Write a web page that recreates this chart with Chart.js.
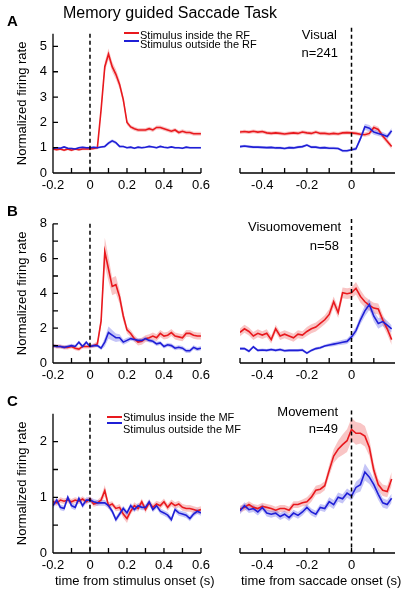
<!DOCTYPE html>
<html>
<head>
<meta charset="utf-8">
<script src="https://cdn.jsdelivr.net/npm/chart.js@4.4.0/dist/chart.umd.min.js"></script>
<style>
body { margin: 0; background: #fff; font-family: Arial, "Liberation Sans", sans-serif; }
#fig { position: relative; width: 408px; height: 599px; overflow: hidden; }
canvas { position: absolute; }
.t { position: absolute; white-space: nowrap; color: #000; line-height: 1; }
.r { text-align: right; }
.ln { position: absolute; height: 2px; width: 15px; }
</style>
</head>
<body>
<div id="fig">
  <canvas id="cAL" width="215" height="175" style="left:0;top:20px"></canvas>
  <canvas id="cAR" width="178" height="175" style="left:230px;top:20px"></canvas>
  <canvas id="cBL" width="215" height="175" style="left:0;top:210px"></canvas>
  <canvas id="cBR" width="178" height="175" style="left:230px;top:210px"></canvas>
  <canvas id="cCL" width="215" height="175" style="left:0;top:400px"></canvas>
  <canvas id="cCR" width="178" height="175" style="left:230px;top:400px"></canvas>

  <div class="t" style="left:63px;top:5px;font-size:16px">Memory guided Saccade Task</div>
  <div class="t" style="left:7px;top:13px;font-size:15px;font-weight:bold">A</div>
  <div class="t" style="left:7px;top:203px;font-size:15px;font-weight:bold">B</div>
  <div class="t" style="left:7px;top:393px;font-size:15px;font-weight:bold">C</div>

  <div class="ln" style="left:124px;top:32px;background:#e8191e"></div>
  <div class="t" style="left:140px;top:30px;font-size:11px">Stimulus inside the RF</div>
  <div class="ln" style="left:124px;top:40px;background:#1f1fd6"></div>
  <div class="t" style="left:140px;top:39px;font-size:11px">Stimulus outside the RF</div>

  <div class="ln" style="left:107px;top:416px;background:#e8191e"></div>
  <div class="t" style="left:123px;top:412px;font-size:11px">Stimulus inside the MF</div>
  <div class="ln" style="left:107px;top:422px;background:#1f1fd6"></div>
  <div class="t" style="left:123px;top:424px;font-size:11px">Stimulus outside the MF</div>

  <div class="t r" style="right:71px;top:28px;font-size:13px">Visual</div>
  <div class="t r" style="right:70px;top:46px;font-size:13px">n=241</div>
  <div class="t r" style="right:67px;top:220px;font-size:13px">Visuomovement</div>
  <div class="t r" style="right:69px;top:239px;font-size:13px">n=58</div>
  <div class="t r" style="right:70px;top:405px;font-size:13px">Movement</div>
  <div class="t r" style="right:70px;top:422px;font-size:13px">n=49</div>

  <div class="t" style="left:55px;top:574px;font-size:13px">time from stimulus onset (s)</div>
  <div class="t" style="left:241px;top:574px;font-size:13px">time from saccade onset (s)</div>
</div>
<script>
// time bins (s)
const timesL = [-0.2,-0.18,-0.16,-0.14,-0.12,-0.1,-0.08,-0.06,-0.04,-0.02,0,0.02,0.04,0.06,0.08,0.1,0.12,0.14,0.16,0.18,0.2,
                0.22,0.24,0.26,0.28,0.3,0.32,0.34,0.36,0.38,0.4,0.42,0.44,0.46,0.48,0.5,0.52,0.54,0.56,0.58,0.6];
const timesR = [-0.5,-0.48,-0.46,-0.44,-0.42,-0.4,-0.38,-0.36,-0.34,-0.32,-0.3,-0.28,-0.26,-0.24,-0.22,-0.2,-0.18,-0.16,
                -0.14,-0.12,-0.1,-0.08,-0.06,-0.04,-0.02,0,0.02,0.04,0.06,0.08,0.1,0.12,0.14,0.16,0.18];

// tick positions and labelled ticks
const xTicksL = [-0.2,-0.1,0,0.1,0.2,0.3,0.4,0.5,0.6];
const xLabelsL = [-0.2,0,0.2,0.4,0.6];
const xTicksR = [-0.5,-0.4,-0.3,-0.2,-0.1,0,0.1];
const xLabelsR = [-0.4,-0.2,0];
const yTicksA = [0,1,2,3,4,5];
const yLabelsA = [0,1,2,3,4,5];
const yTicksB = [0,1,2,3,4,5,6,7,8];
const yLabelsB = [0,2,4,6,8];
const yTicksC = [0,0.5,1,1.5,2];
const yLabelsC = [0,1,2];

// A - Visual
const aRedL  = [0.95,0.92,0.95,0.9,0.95,0.9,0.95,0.92,0.95,0.95,0.95,0.97,1.0,2.5,4.2,4.7,4.2,3.9,3.5,2.9,2.0,
                1.82,1.75,1.7,1.7,1.7,1.75,1.7,1.8,1.8,1.75,1.7,1.65,1.7,1.6,1.65,1.6,1.6,1.55,1.55,1.55];
const aRedLsem = [0.05,0.05,0.05,0.05,0.05,0.05,0.05,0.05,0.05,0.05,0.05,0.05,0.06,0.15,0.2,0.22,0.2,0.2,0.18,0.15,0.1,
                0.08,0.08,0.08,0.08,0.08,0.08,0.08,0.08,0.08,0.08,0.08,0.08,0.08,0.08,0.08,0.08,0.08,0.08,0.08,0.08];
const aBlueL = [0.97,1.0,0.98,1.03,0.98,0.97,0.95,1.0,1.02,1.0,1.0,1.02,1.0,1.03,1.05,1.18,1.27,1.2,1.05,1.05,1.0,
                1.02,0.98,1.02,1.0,1.02,1.05,1.03,1.0,1.05,1.02,1.0,1.03,1.0,1.0,0.98,1.02,1.0,1.0,1.0,1.0];
const aBlueLsem = [0.04,0.04,0.04,0.04,0.04,0.04,0.04,0.04,0.04,0.04,0.04,0.04,0.04,0.04,0.05,0.06,0.06,0.06,0.05,0.04,0.04,
                0.04,0.04,0.04,0.04,0.04,0.04,0.04,0.04,0.04,0.04,0.04,0.04,0.04,0.04,0.04,0.04,0.04,0.04,0.04,0.04];
const aRedR  = [1.55,1.57,1.55,1.58,1.55,1.57,1.52,1.5,1.52,1.5,1.48,1.5,1.52,1.5,1.55,1.52,1.5,1.55,1.5,1.5,
                1.48,1.5,1.48,1.52,1.53,1.52,1.5,1.47,1.45,1.5,1.72,1.65,1.4,1.2,1.0];
const aRedRsem = [0.07,0.07,0.07,0.07,0.07,0.07,0.07,0.07,0.07,0.07,0.07,0.07,0.07,0.07,0.07,0.07,0.07,0.07,0.07,0.07,
                0.07,0.07,0.07,0.07,0.07,0.07,0.07,0.07,0.08,0.1,0.1,0.1,0.1,0.1,0.1];
const aBlueR = [1.0,1.02,1.0,0.98,0.98,0.97,0.96,0.97,0.95,0.95,0.93,0.96,0.95,0.98,1.0,1.06,0.98,0.98,0.95,0.96,
                0.94,0.94,0.93,0.84,0.84,0.88,0.92,1.3,1.75,1.7,1.55,1.5,1.45,1.38,1.6];
const aBlueRsem = [0.05,0.05,0.05,0.05,0.05,0.05,0.05,0.05,0.05,0.05,0.05,0.05,0.05,0.05,0.05,0.05,0.05,0.05,0.05,0.05,
                0.05,0.05,0.05,0.05,0.05,0.05,0.07,0.1,0.12,0.12,0.1,0.1,0.1,0.1,0.1];

// B - Visuomovement
const bRedL  = [1.0,0.95,0.95,0.9,0.9,0.95,0.85,0.8,0.95,0.95,0.95,1.0,1.1,2.4,6.4,5.4,4.4,4.5,3.8,2.7,1.9,
                1.7,1.4,1.2,1.25,1.4,1.45,1.55,1.45,1.7,1.55,1.6,1.75,1.55,1.5,1.45,1.7,1.7,1.6,1.55,1.55];
const bRedLsem = [0.12,0.12,0.12,0.12,0.12,0.12,0.12,0.12,0.12,0.12,0.12,0.12,0.15,0.3,0.8,0.7,0.5,0.5,0.4,0.3,0.2,
                0.2,0.2,0.2,0.2,0.2,0.2,0.2,0.2,0.2,0.2,0.2,0.2,0.2,0.2,0.2,0.2,0.2,0.2,0.2,0.2];
const bBlueL = [1.0,0.95,0.95,0.9,0.95,1.0,0.95,1.2,0.95,1.2,0.95,1.0,1.0,0.85,1.2,1.75,1.6,1.45,1.45,1.2,1.3,
                1.4,1.35,1.3,1.3,1.4,1.3,1.25,1.1,1.15,0.95,1.05,1.0,0.85,0.9,0.85,0.7,0.7,0.9,0.8,0.85];
const bBlueLsem = [0.1,0.1,0.1,0.1,0.1,0.1,0.1,0.1,0.1,0.1,0.1,0.1,0.1,0.1,0.25,0.35,0.3,0.25,0.2,0.15,0.15,
                0.12,0.12,0.12,0.12,0.12,0.12,0.12,0.12,0.12,0.12,0.12,0.12,0.12,0.12,0.12,0.12,0.12,0.12,0.12,0.12];
const bRedR  = [1.7,1.9,1.75,1.5,1.65,1.55,1.65,1.3,1.9,1.5,1.6,1.5,1.4,1.6,1.55,1.75,1.9,2.0,2.2,2.4,
                2.7,3.4,2.8,3.9,3.85,3.9,4.15,3.7,3.4,3.2,3.05,3.0,2.4,1.9,1.3];
const bRedRsem = [0.22,0.22,0.22,0.22,0.22,0.22,0.22,0.22,0.22,0.22,0.22,0.22,0.22,0.22,0.22,0.25,0.25,0.25,0.25,0.25,
                0.3,0.3,0.3,0.3,0.3,0.3,0.35,0.35,0.3,0.3,0.3,0.3,0.3,0.3,0.3];
const bBlueR = [0.8,0.8,0.65,0.9,0.7,0.72,0.7,0.75,0.7,0.75,0.68,0.7,0.7,0.7,0.72,0.55,0.7,0.8,0.85,0.95,
                1.0,1.05,1.1,1.15,1.2,1.45,1.8,2.4,2.9,3.25,2.6,2.2,2.3,2.1,1.9];
const bBlueRsem = [0.08,0.08,0.08,0.08,0.08,0.08,0.08,0.08,0.08,0.08,0.08,0.08,0.08,0.08,0.08,0.08,0.08,0.08,0.08,0.08,
                0.1,0.12,0.12,0.14,0.15,0.18,0.2,0.25,0.3,0.3,0.3,0.3,0.25,0.25,0.2];

// C - Movement
const cRedL  = [0.92,0.9,0.95,0.93,0.95,0.92,0.95,0.93,0.97,0.92,0.97,0.88,0.9,0.95,1.12,0.85,0.88,0.8,0.82,0.7,0.62,
                0.75,0.85,0.8,0.92,0.78,0.9,0.82,0.88,0.85,0.92,0.82,0.9,0.85,0.88,0.82,0.8,0.8,0.78,0.76,0.78];
const cRedLsem = [0.05,0.05,0.05,0.05,0.05,0.05,0.05,0.05,0.05,0.05,0.05,0.05,0.05,0.06,0.1,0.06,0.05,0.05,0.06,0.07,0.08,
                0.06,0.06,0.06,0.06,0.06,0.06,0.06,0.06,0.06,0.06,0.06,0.06,0.06,0.06,0.06,0.06,0.06,0.06,0.06,0.06];
const cBlueL = [0.85,0.95,0.82,0.8,1.0,0.85,0.82,0.98,0.85,0.95,0.95,0.92,0.9,0.9,0.9,0.85,0.75,0.6,0.7,0.8,0.72,
                0.85,0.78,0.85,0.82,0.82,0.92,0.78,0.85,0.75,0.72,0.68,0.6,0.78,0.72,0.7,0.68,0.62,0.7,0.75,0.72];
const cBlueLsem = [0.05,0.05,0.05,0.05,0.05,0.05,0.05,0.05,0.05,0.05,0.05,0.05,0.05,0.05,0.05,0.05,0.05,0.05,0.05,0.05,0.05,
                0.05,0.05,0.05,0.05,0.05,0.05,0.05,0.05,0.05,0.05,0.05,0.05,0.05,0.05,0.05,0.05,0.05,0.05,0.05,0.05];
const cRedR  = [0.77,0.8,0.85,0.8,0.78,0.82,0.8,0.78,0.75,0.78,0.78,0.75,0.85,0.85,0.88,0.9,0.98,1.1,1.12,1.18,
                1.45,1.7,1.82,1.9,1.97,2.17,2.1,2.1,2.05,1.85,1.45,1.2,1.1,1.08,1.3];
const cRedRsem = [0.06,0.06,0.06,0.06,0.06,0.06,0.06,0.06,0.06,0.06,0.06,0.06,0.06,0.06,0.06,0.08,0.08,0.08,0.08,0.08,
                0.1,0.12,0.15,0.18,0.2,0.2,0.2,0.18,0.18,0.15,0.12,0.1,0.1,0.1,0.12];
const cBlueR = [0.74,0.83,0.76,0.78,0.72,0.8,0.7,0.68,0.7,0.64,0.68,0.62,0.7,0.66,0.72,0.8,0.72,0.68,0.8,0.78,
                0.9,0.85,0.98,0.95,1.05,1.0,1.15,1.2,1.42,1.33,1.2,1.03,0.88,0.85,0.96];
const cBlueRsem = [0.06,0.06,0.06,0.06,0.06,0.06,0.06,0.06,0.06,0.06,0.06,0.06,0.06,0.06,0.06,0.06,0.06,0.06,0.06,0.06,
                0.08,0.08,0.08,0.08,0.08,0.08,0.1,0.12,0.15,0.12,0.1,0.1,0.08,0.08,0.08];

const RED = '#e8191e', BLUE = '#1f1fd6';
const RED_BAND = 'rgba(240,110,110,0.4)', BLUE_BAND = 'rgba(110,110,235,0.4)';

Chart.defaults.font.family = 'Arial, "Liberation Sans", sans-serif';
Chart.defaults.color = '#000';

function pts(times, vals, sem, sign) {
  return times.map((t, i) => ({ x: t, y: vals[i] + sign * (sem ? sem[i] : 0) }));
}
function near(list, v) { return list.some(u => Math.abs(u - v) < 1e-6); }

// inward ticks, axis lines and the dashed zero line
const axisPlugin = {
  id: 'axes',
  afterDatasetsDraw(chart) {
    const { ctx, chartArea: a, scales: { x, y } } = chart;
    ctx.save();
    ctx.strokeStyle = '#000';
    ctx.lineWidth = 1.3;
    ctx.beginPath();
    ctx.moveTo(a.left, a.bottom); ctx.lineTo(a.right, a.bottom);
    x.ticks.forEach(t => {
      const p = x.getPixelForValue(t.value);
      ctx.moveTo(p, a.bottom); ctx.lineTo(p, a.bottom - 5);
    });
    if (chart.options.scales.y.display) {
      ctx.moveTo(a.left, a.bottom); ctx.lineTo(a.left, a.top);
      y.ticks.forEach(t => {
        const p = y.getPixelForValue(t.value);
        ctx.moveTo(a.left, p); ctx.lineTo(a.left + 5, p);
      });
    }
    ctx.stroke();
    const z = x.getPixelForValue(0);
    ctx.setLineDash([4, 3]);
    ctx.lineWidth = 1.5;
    ctx.beginPath();
    ctx.moveTo(z, a.top); ctx.lineTo(z, a.bottom);
    ctx.stroke();
    ctx.restore();
  }
};

function panel(id, p) {
  const left = p.side === 'L';
  const times = left ? timesL : timesR;
  const xTicks = left ? xTicksL : xTicksR;
  const xLabels = left ? xLabelsL : xLabelsR;
  return new Chart(document.getElementById(id), {
    type: 'line',
    data: {
      datasets: [
        { data: pts(times, p.blue, null, 0), borderColor: BLUE, borderWidth: 1.6, pointRadius: 0, fill: false },
        { data: pts(times, p.red, null, 0), borderColor: RED, borderWidth: 1.6, pointRadius: 0, fill: false },
        { data: pts(times, p.blue, p.blueSem, 1), borderWidth: 0, pointRadius: 0, fill: false },
        { data: pts(times, p.blue, p.blueSem, -1), borderWidth: 0, pointRadius: 0, fill: '-1', backgroundColor: BLUE_BAND },
        { data: pts(times, p.red, p.redSem, 1), borderWidth: 0, pointRadius: 0, fill: false },
        { data: pts(times, p.red, p.redSem, -1), borderWidth: 0, pointRadius: 0, fill: '-1', backgroundColor: RED_BAND }
      ]
    },
    options: {
      responsive: false,
      animation: false,
      events: [],
      layout: { padding: { top: p.padTop, left: left ? 0 : 10, right: left ? 8 : 13, bottom: 0 } },
      plugins: { legend: { display: false }, tooltip: { enabled: false } },
      scales: {
        x: {
          type: 'linear',
          min: left ? -0.2 : -0.5,
          max: left ? 0.6 : 0.195,
          grid: { display: false, drawTicks: false },
          border: { display: false },
          afterFit: s => { s.height = 22; },
          afterBuildTicks: s => { s.ticks = xTicks.map(v => ({ value: v })); },
          ticks: {
            autoSkip: false, maxRotation: 0, padding: 5, font: { size: 13 }, color: '#000',
            callback: v => near(xLabels, v) ? (Math.abs(v) < 1e-6 ? '0' : v.toFixed(1)) : ''
          }
        },
        y: {
          display: left,
          min: 0,
          max: p.yMax,
          grid: { display: false, drawTicks: false },
          border: { display: false },
          afterFit: s => { s.width = left ? 53 : 0; },
          afterBuildTicks: s => { s.ticks = p.yTicks.map(v => ({ value: v })); },
          ticks: {
            autoSkip: false, padding: 6, font: { size: 13 }, color: '#000',
            callback: v => near(p.yLabels, v) ? String(v) : ''
          },
          title: {
            display: true, text: 'Normalized firing rate', color: '#000',
            font: { size: 13 }, padding: { top: 15, bottom: 0 }
          }
        }
      }
    },
    plugins: [axisPlugin]
  });
}

const rowA = { padTop: 7.8, yMax: 5.5, yTicks: yTicksA, yLabels: yLabelsA };
const rowB = { padTop: 9, yMax: 8, yTicks: yTicksB, yLabels: yLabelsB };
const rowC = { padTop: 10.5, yMax: 2.5, yTicks: yTicksC, yLabels: yLabelsC };

panel('cAL', { ...rowA, side: 'L', red: aRedL, redSem: aRedLsem, blue: aBlueL, blueSem: aBlueLsem });
panel('cAR', { ...rowA, side: 'R', red: aRedR, redSem: aRedRsem, blue: aBlueR, blueSem: aBlueRsem });
panel('cBL', { ...rowB, side: 'L', red: bRedL, redSem: bRedLsem, blue: bBlueL, blueSem: bBlueLsem });
panel('cBR', { ...rowB, side: 'R', red: bRedR, redSem: bRedRsem, blue: bBlueR, blueSem: bBlueRsem });
panel('cCL', { ...rowC, side: 'L', red: cRedL, redSem: cRedLsem, blue: cBlueL, blueSem: cBlueLsem });
panel('cCR', { ...rowC, side: 'R', red: cRedR, redSem: cRedRsem, blue: cBlueR, blueSem: cBlueRsem });
</script>
</body>
</html>
